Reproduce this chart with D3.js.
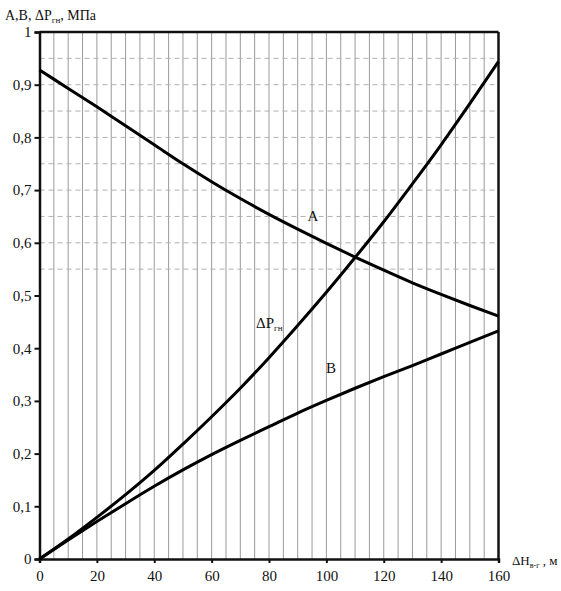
<!DOCTYPE html>
<html><head><meta charset="utf-8">
<script src="https://cdn.jsdelivr.net/npm/d3@7"></script>
<style>body{margin:0;background:#fff}svg{display:block}text{font-family:"Liberation Serif","Times New Roman",serif;fill:#111}</style>
</head><body><div id="c"></div>
<script>
const xValues = [0,10,20,30,40,50,60,70,80,90,100,110,120,130,140,150,160];
const seriesA = [0.928,0.893,0.858,0.822,0.786,0.750,0.716,0.684,0.654,0.626,0.599,0.573,0.548,0.524,0.502,0.481,0.461];
const seriesB = [0,0.036,0.071,0.105,0.138,0.169,0.198,0.225,0.251,0.277,0.301,0.324,0.346,0.367,0.389,0.411,0.433];
const seriesDP = [0,0.038,0.079,0.122,0.168,0.218,0.270,0.324,0.382,0.443,0.506,0.572,0.640,0.712,0.786,0.864,0.944];
const xTicks = [0,20,40,60,80,100,120,140,160];
const yTicks = [0,0.1,0.2,0.3,0.4,0.5,0.6,0.7,0.8,0.9,1];
const vGrid = d3.range(5,160,5);
const hGrid = [0.55,0.6,0.65,0.7,0.75,0.8,0.85,0.9,0.95];

const W=561,H=591;
const svg=d3.select("#c").append("svg").attr("width",W).attr("height",H);
const x=d3.scaleLinear().domain([0,160]).range([39.5,498.5]);
const y=d3.scaleLinear().domain([0,1]).range([559,32]);

// grid
svg.append("g").selectAll("line").data(vGrid).join("line")
 .attr("x1",d=>x(d)).attr("x2",d=>x(d)).attr("y1",y(0)).attr("y2",y(1))
 .attr("stroke","#9a9a9a").attr("stroke-width",1);
svg.append("g").selectAll("line").data(hGrid).join("line")
 .attr("x1",x(0)).attr("x2",x(160)).attr("y1",d=>y(d)).attr("y2",d=>y(d))
 .attr("stroke","#b0b0b0").attr("stroke-width",1).attr("stroke-dasharray","5,4");

// frame
svg.append("line").attr("x1",x(0)).attr("x2",x(160)).attr("y1",y(1)).attr("y2",y(1)).attr("stroke","#111").attr("stroke-width",2.5);
svg.append("line").attr("x1",x(160)).attr("x2",x(160)).attr("y1",y(1)).attr("y2",y(0)).attr("stroke","#111").attr("stroke-width",2.5);

const fmt=d=>String(+d.toFixed(2)).replace(".",",");
const xAxis=svg.append("g").attr("transform",`translate(0,${y(0)})`)
 .call(d3.axisBottom(x).tickValues(xTicks).tickSize(4).tickPadding(7).tickFormat(d=>d));
const yAxis=svg.append("g").attr("transform",`translate(${x(0)},0)`)
 .call(d3.axisLeft(y).tickValues(yTicks).tickSize(5).tickPadding(3).tickFormat(fmt));
[xAxis,yAxis].forEach(a=>{
 a.attr("font-family","Liberation Serif, serif").attr("font-size",15);
 a.select(".domain").attr("stroke","#111").attr("stroke-width",2.5);
 a.selectAll(".tick line").attr("stroke","#111").attr("stroke-width",2);
 a.selectAll("text").style("font-family","'Liberation Serif', serif").style("font-size","15px").attr("fill","#111");
});

const line=d3.line().x((d,i)=>x(xValues[i])).y(d=>y(d)).curve(d3.curveMonotoneX);
[seriesA,seriesB,seriesDP].forEach(s=>{
 svg.append("path").attr("d",line(s)).attr("fill","none").attr("stroke","#000").attr("stroke-width",3);
});

// labels
svg.append("text").attr("x",313).attr("y",221).attr("text-anchor","middle").style("font-size","15px").text("A");
svg.append("text").attr("x",331).attr("y",373).attr("text-anchor","middle").style("font-size","15px").text("B");
const dp=svg.append("text").attr("x",256).attr("y",328).style("font-size","15px");
dp.append("tspan").text("ΔP");
dp.append("tspan").attr("dy",3).style("font-size","9px").text("гн");

const yt=svg.append("text").attr("x",5).attr("y",20).style("font-size","14px");
yt.append("tspan").text("A,B, ΔP");
yt.append("tspan").attr("dy",3).style("font-size","9px").text("гн");
yt.append("tspan").attr("dy",-3).text(", МПа");

const xt=svg.append("text").attr("x",512).attr("y",565).style("font-size","13px");
xt.append("tspan").text("ΔH");
xt.append("tspan").attr("dy",3).style("font-size","8px").text("в-г");
xt.append("tspan").attr("dy",-3).text(" , м");
</script></body></html>
